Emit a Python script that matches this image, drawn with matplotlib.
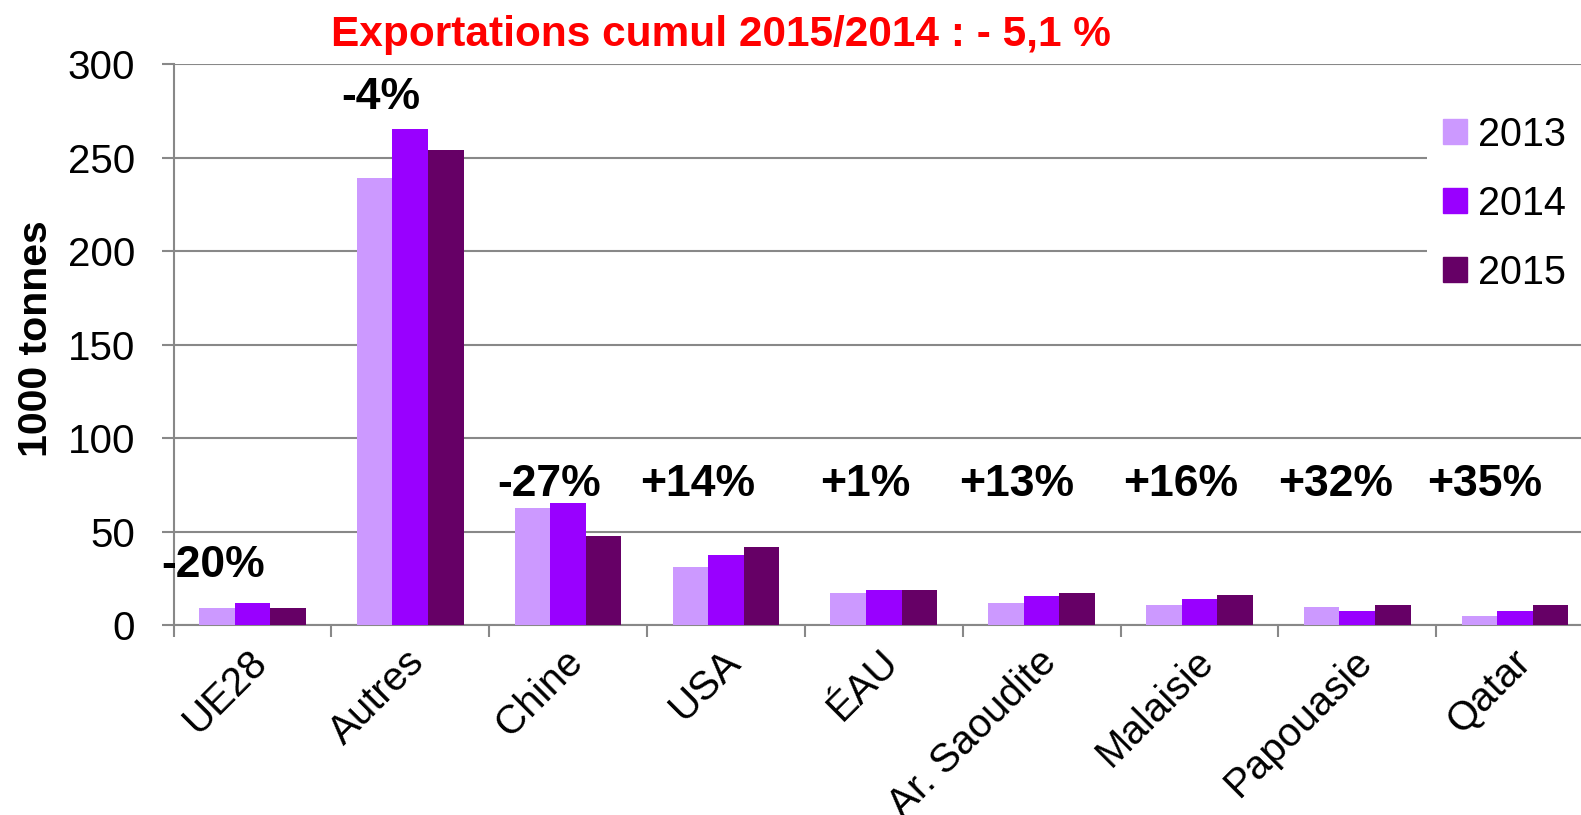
import matplotlib
matplotlib.use("Agg")
import matplotlib.pyplot as plt
import numpy as np
from matplotlib.patches import Patch

plt.rcParams['font.family'] = ['Liberation Sans', 'DejaVu Sans']

# data (1000 tonnes)
pays = ['UE28', 'Autres', 'Chine', 'USA', 'ÉAU', 'Ar. Saoudite',
        'Malaisie', 'Papouasie', 'Qatar']
v2013 = [9.5, 239, 62.7, 31.2, 17.3, 11.9, 10.9, 9.8, 5.0]
v2014 = [12.0, 265, 65.4, 37.6, 18.9, 15.7, 14.1, 7.7, 7.7]
v2015 = [9.5, 254, 47.8, 41.9, 18.9, 17.3, 16.3, 10.9, 10.9]
evol = ['-20%', '-4%', '-27%', '+14%', '+1%', '+13%', '+16%', '+32%', '+35%']

# where the percentage labels sit (x shift from category, y baseline)
evol_dx = [-0.25, -0.19, -0.12, -0.18, -0.12, -0.16, -0.12, -0.14, -0.19]
evol_y = [26, 276, 69, 69, 69, 69, 69, 69, 69]

colors = ['#CC99FF', '#9900FF', '#660066']
grey = '#888888'

fig = plt.figure(figsize=(15.81, 8.15), dpi=100)
ax = fig.add_axes([173.5 / 1581, 1 - 625.3 / 815, 1420.5 / 1581, 561.3 / 815])

x = np.arange(len(pays))
w = 0.225
for k, (vals, lab) in enumerate(zip([v2013, v2014, v2015], ['2013', '2014', '2015'])):
    ax.bar(x + (k - 1) * w, vals, width=w, color=colors[k], label=lab, zorder=3)

for i, t in enumerate(evol):
    ax.text(i + evol_dx[i], evol_y[i], t, ha='center', va='baseline',
            fontsize=32, fontweight='bold', color='black', zorder=4)

ax.set_xlim(-0.5, 8.5)
ax.set_ylim(0, 300)
ax.set_yticks(np.arange(0, 301, 50))
ax.yaxis.grid(True, color=grey, linewidth=1.5)
ax.set_axisbelow(True)

# label anchors slightly right of the category centre, as in the original
ax.set_xticks(x + 0.055)
ax.set_xticklabels(pays, rotation=45, ha='right', va='center',
                   rotation_mode='anchor', fontsize=29)
ax.set_xticks(np.arange(-0.5, 9, 1), minor=True)
ax.tick_params(axis='x', which='major', length=0, pad=22)
ax.tick_params(axis='x', which='minor', length=8.6, width=1.5, color=grey)
ax.tick_params(axis='y', length=8.6, width=1.5, color=grey, pad=19, labelsize=29)

for s in ['top', 'right']:
    ax.spines[s].set_visible(False)
for s in ['left', 'bottom']:
    ax.spines[s].set_color(grey)
    ax.spines[s].set_linewidth(1.5)

ax.set_ylabel('1000 tonnes', fontsize=29.5, fontweight='bold')
ax.yaxis.set_label_coords(55 / 1581, 1 - 339 / 815, transform=fig.transFigure)

handles = [Patch(color=c) for c in colors]
leg = ax.legend(handles, ['2013', '2014', '2015'], loc='upper left',
                bbox_to_anchor=(1427 / 1581, 1 - 300 / 815, 160 / 1581, 200 / 815),
                bbox_transform=fig.transFigure, mode='expand',
                fontsize=28.5, frameon=True, facecolor='white', edgecolor='none',
                framealpha=1, fancybox=False, borderaxespad=0, borderpad=0.4,
                handlelength=0.6, handleheight=0.6, handletextpad=0.3,
                labelspacing=0.78)

fig.text(721 / 1581, 1 - 45.7 / 815, 'Exportations cumul 2015/2014 : - 5,1 %',
         ha='center', va='baseline', fontsize=30.5, fontweight='bold', color='#FF0000')

fig.savefig('out.png', dpi=100)
